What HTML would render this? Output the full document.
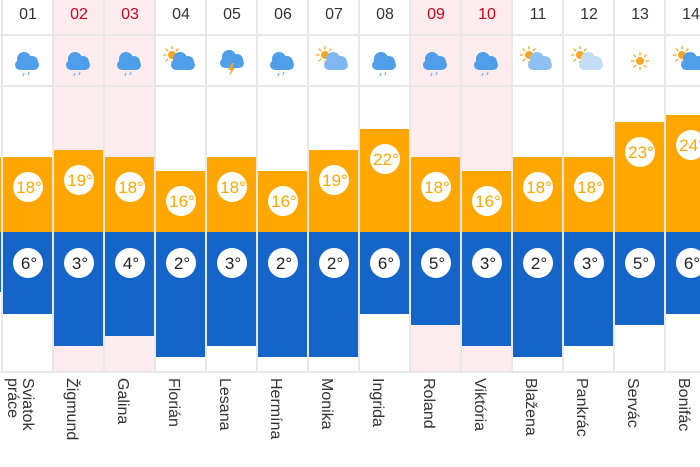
<!DOCTYPE html>
<html><head><meta charset="utf-8"><style>
html,body{margin:0;padding:0;background:#fff;}
svg{display:block;font-family:"Liberation Sans",Arial,sans-serif;}
</style></head><body>
<svg width="700" height="467" viewBox="0 0 700 467" xmlns="http://www.w3.org/2000/svg">
<defs>
<g id="cl"><rect x="-12" y="-2" width="24" height="10" rx="5"/><circle cx="-3" cy="-3" r="7"/><circle cx="5" cy="0" r="6"/></g>
<g id="sun" fill="#f5a623" stroke="#f5a623" stroke-width="1.3" stroke-linecap="round"><circle r="4" stroke="none"/><line x1="0" y1="-6" x2="0" y2="-8.5"/><line x1="0" y1="6" x2="0" y2="8.5"/><line x1="-6" y1="0" x2="-8.5" y2="0"/><line x1="6" y1="0" x2="8.5" y2="0"/><line x1="4.2" y1="4.2" x2="6" y2="6"/><line x1="-4.2" y1="-4.2" x2="-6" y2="-6"/><line x1="4.2" y1="-4.2" x2="6" y2="-6"/><line x1="-4.2" y1="4.2" x2="-6" y2="6"/></g>
<g id="rain"><use href="#cl" fill="#4f9ee9"/><line x1="-3" y1="11" x2="-4" y2="14" stroke="#7db6ee" stroke-width="1.3"/><line x1="2" y1="10" x2="1" y2="13" stroke="#7db6ee" stroke-width="1.3"/></g>
</defs>
<g fill="#fcecee">
<rect x="53" y="0" width="102" height="372"/>
<rect x="410" y="0" width="102" height="372"/>
</g>
<g fill="#e8e8e8">
<rect x="0" y="34" width="700" height="2"/>
<rect x="0" y="85" width="700" height="2"/>
<rect x="0" y="371" width="700" height="2"/>
<rect x="1" y="0" width="2" height="372"/><rect x="52" y="0" width="2" height="372"/><rect x="103" y="0" width="2" height="372"/><rect x="154" y="0" width="2" height="372"/><rect x="205" y="0" width="2" height="372"/><rect x="256" y="0" width="2" height="372"/><rect x="307" y="0" width="2" height="372"/><rect x="358" y="0" width="2" height="372"/><rect x="409" y="0" width="2" height="372"/><rect x="460" y="0" width="2" height="372"/><rect x="511" y="0" width="2" height="372"/><rect x="562" y="0" width="2" height="372"/><rect x="613" y="0" width="2" height="372"/><rect x="664" y="0" width="2" height="372"/>
</g>
<g font-size="16" text-anchor="middle" fill="#333">
<text x="28" y="19">01</text><text x="79" y="19" fill="#d0021b">02</text><text x="130" y="19" fill="#d0021b">03</text><text x="181" y="19">04</text><text x="232" y="19">05</text><text x="283" y="19">06</text><text x="334" y="19">07</text><text x="385" y="19">08</text><text x="436" y="19" fill="#d0021b">09</text><text x="487" y="19" fill="#d0021b">10</text><text x="538" y="19">11</text><text x="589" y="19">12</text><text x="640" y="19">13</text><text x="691" y="19">14</text>
</g>
<use href="#rain" x="27" y="62"/><use href="#rain" x="78" y="62"/><use href="#rain" x="129" y="62"/>
<use href="#sun" x="172" y="55"/><use href="#cl" x="183" y="62" fill="#4f9ee9"/>
<use href="#cl" x="232" y="60" fill="#4f9ee9"/><path d="M232 63 l-4 7 h3 l-2 6 l6 -8 h-3 l2 -5z" fill="#f5a623"/>
<use href="#rain" x="282" y="62"/>
<use href="#sun" x="325" y="55"/><use href="#cl" x="336" y="62" fill="#7fb8f0"/>
<use href="#rain" x="384" y="62"/><use href="#rain" x="435" y="62"/><use href="#rain" x="486" y="62"/>
<use href="#sun" x="529" y="55"/><use href="#cl" x="540" y="62" fill="#8ec0f3"/>
<use href="#sun" x="580" y="55"/><use href="#cl" x="591" y="62" fill="#c3ddf8"/>
<use href="#sun" x="640" y="61"/>
<use href="#sun" x="682" y="55"/><use href="#cl" x="693" y="62" fill="#4f9ee9"/>
<g fill="#ffa600">
<rect x="0" y="157" width="1" height="75"/>
<rect x="3" y="157" width="49" height="75"/><rect x="54" y="150" width="49" height="82"/><rect x="105" y="157" width="49" height="75"/><rect x="156" y="171" width="49" height="61"/><rect x="207" y="157" width="49" height="75"/><rect x="258" y="171" width="49" height="61"/><rect x="309" y="150" width="49" height="82"/><rect x="360" y="129" width="49" height="103"/><rect x="411" y="157" width="49" height="75"/><rect x="462" y="171" width="49" height="61"/><rect x="513" y="157" width="49" height="75"/><rect x="564" y="157" width="49" height="75"/><rect x="615" y="122" width="49" height="110"/><rect x="666" y="115" width="49" height="117"/>
</g>
<g fill="#1565c8">
<rect x="0" y="232" width="1" height="60"/>
<rect x="3" y="232" width="49" height="82"/><rect x="54" y="232" width="49" height="114"/><rect x="105" y="232" width="49" height="104"/><rect x="156" y="232" width="49" height="125"/><rect x="207" y="232" width="49" height="114"/><rect x="258" y="232" width="49" height="125"/><rect x="309" y="232" width="49" height="125"/><rect x="360" y="232" width="49" height="82"/><rect x="411" y="232" width="49" height="93"/><rect x="462" y="232" width="49" height="114"/><rect x="513" y="232" width="49" height="125"/><rect x="564" y="232" width="49" height="114"/><rect x="615" y="232" width="49" height="93"/><rect x="666" y="232" width="49" height="82"/>
</g>
<g fill="#fff">
<circle cx="28" cy="187" r="15"/><circle cx="79" cy="180" r="15"/><circle cx="130" cy="187" r="15"/><circle cx="181" cy="201" r="15"/><circle cx="232" cy="187" r="15"/><circle cx="283" cy="201" r="15"/><circle cx="334" cy="180" r="15"/><circle cx="385" cy="159" r="15"/><circle cx="436" cy="187" r="15"/><circle cx="487" cy="201" r="15"/><circle cx="538" cy="187" r="15"/><circle cx="589" cy="187" r="15"/><circle cx="640" cy="152" r="15"/><circle cx="691" cy="145" r="15"/>
<circle cx="28" cy="263" r="15"/><circle cx="79" cy="263" r="15"/><circle cx="130" cy="263" r="15"/><circle cx="181" cy="263" r="15"/><circle cx="232" cy="263" r="15"/><circle cx="283" cy="263" r="15"/><circle cx="334" cy="263" r="15"/><circle cx="385" cy="263" r="15"/><circle cx="436" cy="263" r="15"/><circle cx="487" cy="263" r="15"/><circle cx="538" cy="263" r="15"/><circle cx="589" cy="263" r="15"/><circle cx="640" cy="263" r="15"/><circle cx="691" cy="263" r="15"/>
</g>
<g font-size="17" text-anchor="middle" fill="#ffa600">
<text x="29" y="193">18°</text><text x="80" y="186">19°</text><text x="131" y="193">18°</text><text x="182" y="207">16°</text><text x="233" y="193">18°</text><text x="284" y="207">16°</text><text x="335" y="186">19°</text><text x="386" y="165">22°</text><text x="437" y="193">18°</text><text x="488" y="207">16°</text><text x="539" y="193">18°</text><text x="590" y="193">18°</text><text x="641" y="158">23°</text><text x="692" y="151">24°</text>
</g>
<g font-size="17" text-anchor="middle" fill="#222">
<text x="29" y="269">6°</text><text x="80" y="269">3°</text><text x="131" y="269">4°</text><text x="182" y="269">2°</text><text x="233" y="269">3°</text><text x="284" y="269">2°</text><text x="335" y="269">2°</text><text x="386" y="269">6°</text><text x="437" y="269">5°</text><text x="488" y="269">3°</text><text x="539" y="269">2°</text><text x="590" y="269">3°</text><text x="641" y="269">5°</text><text x="692" y="269">6°</text>
</g>
<g font-size="16" fill="#333">
<text transform="translate(23,378) rotate(90)">Sviatok</text>
<text transform="translate(8,378) rotate(90)">práce</text>
<text transform="translate(67,378) rotate(90)">Žigmund</text>
<text transform="translate(118,378) rotate(90)">Galina</text>
<text transform="translate(169,378) rotate(90)">Florián</text>
<text transform="translate(220,378) rotate(90)">Lesana</text>
<text transform="translate(271,378) rotate(90)">Hermína</text>
<text transform="translate(322,378) rotate(90)">Monika</text>
<text transform="translate(373,378) rotate(90)">Ingrida</text>
<text transform="translate(424,378) rotate(90)">Roland</text>
<text transform="translate(475,378) rotate(90)">Viktória</text>
<text transform="translate(526,378) rotate(90)">Blažena</text>
<text transform="translate(577,378) rotate(90)">Pankrác</text>
<text transform="translate(628,378) rotate(90)">Servác</text>
<text transform="translate(679,378) rotate(90)">Bonifác</text>
</g>
</svg>
</body></html>
